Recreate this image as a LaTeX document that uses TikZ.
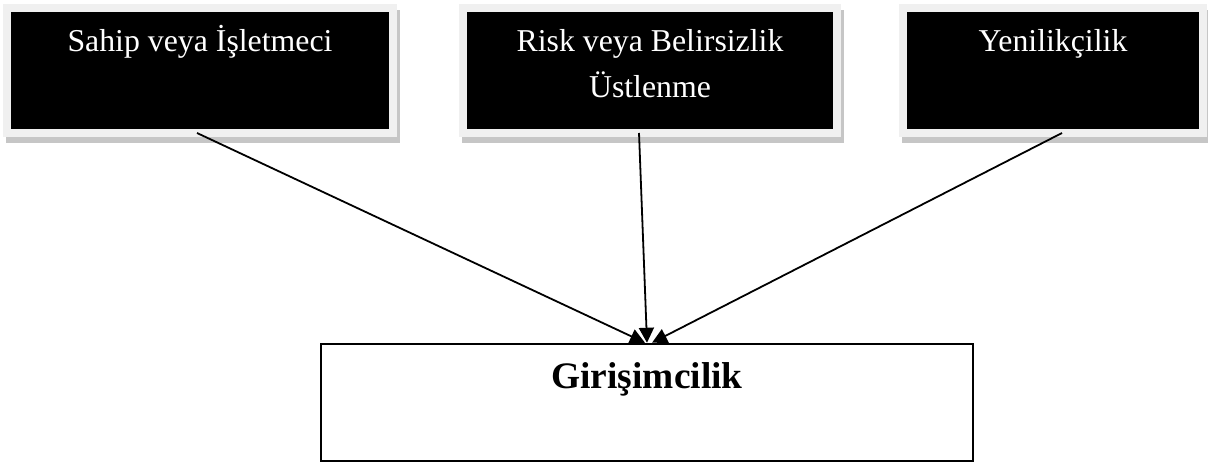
\documentclass[tikz,border=0pt]{standalone}
\usepackage{fontspec}
\setmainfont{Liberation Serif}
\usetikzlibrary{arrows.meta, positioning, calc, shadows}

\begin{document}
\begin{tikzpicture}[
    x=0.5pt, y=-0.5pt,
    factor/.style={rectangle, draw=gray!12, line width=4pt, fill=black, minimum height=62.5pt, inner sep=0pt, outer sep=0pt, drop shadow={shadow xshift=1.5pt, shadow yshift=-3pt, fill=gray!45, draw=gray!45, line width=4pt, opacity=1}},
    factortext/.style={anchor=north, yshift=-5.65pt, inner sep=0pt, align=center, text=white, font=\fontsize{15.9}{23}\selectfont},
    result/.style={rectangle, draw=black, line width=1.25pt, minimum width=326pt, minimum height=58.5pt, inner sep=0pt},
    resulttext/.style={anchor=base, yshift=-23pt, inner sep=0pt, font=\fontsize{18.7}{22}\selectfont\bfseries},
    arrow/.style={-{Triangle[length=7.5pt, width=7.5pt]}, line width=0.9pt}
]
    \useasboundingbox (0,0) rectangle (1208,464);

    % --- Top Row: Factors ---
    \node[factor, minimum width=193pt, label={[factortext]north:\strut Sahip veya İşletmeci}] (owner) at (200,70.5) {};
    \node[factor, minimum width=187pt, right=35pt of owner, label={[factortext]north:\strut Risk veya Belirsizlik\\\strut Üstlenme}] (risk) {};
    \node[factor, minimum width=150pt, right=33pt of risk, label={[factortext]north:\strut Yenilikçilik}] (novelty) {};

    % --- Result ---
    \node[result, label={[resulttext]north:Girişimcilik}] (venture) at (647,402.5) {};

    % --- Connections ---
    \draw[arrow] ([xshift=-1.5pt]owner.south) -- ([xshift=-1pt]venture.north);
    \draw[arrow] ([xshift=-5.5pt]risk.south) -- (venture.north);
    \draw[arrow] ([xshift=4.5pt]novelty.south) -- ([xshift=2.5pt]venture.north);

\end{tikzpicture}
\end{document}
